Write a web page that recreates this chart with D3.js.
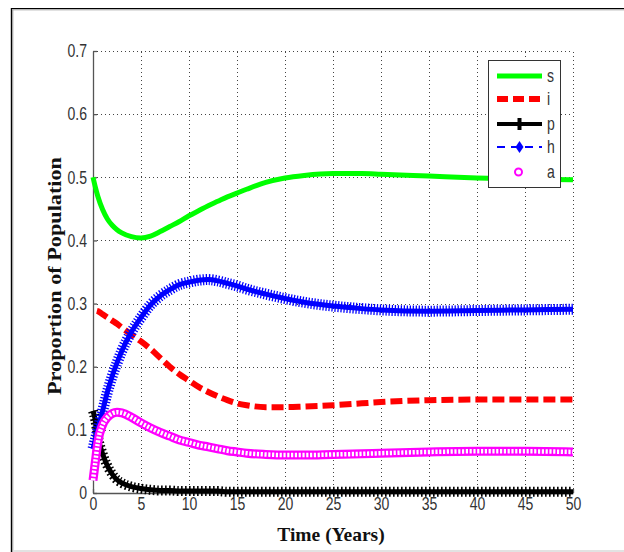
<!DOCTYPE html>
<html><head><meta charset="utf-8">
<script src="https://cdn.jsdelivr.net/npm/d3@7"></script>
<style>body{margin:0;background:#fff}</style>
</head><body><svg id="c" width="624" height="552"></svg>
<script>
// ---- data ----
const T  = [0,0.25,0.5,1,1.5,2,2.5,3,4,5,6,7,8,9,10,11,12,13,14,15,16,18,20,22,25,28,30,35,40,45,50];
const sV = [0.5,0.484,0.47,0.449,0.434,0.424,0.417,0.412,0.406,0.404,0.407,0.414,0.422,0.43,0.439,0.447,0.455,0.462,0.469,0.475,0.481,0.492,0.499,0.503,0.506,0.506,0.505,0.502,0.499,0.497,0.496];
const iV = [0.29,0.289,0.288,0.283,0.278,0.273,0.268,0.262,0.251,0.24,0.228,0.214,0.2,0.188,0.178,0.168,0.16,0.153,0.147,0.142,0.139,0.136,0.136,0.137,0.139,0.142,0.144,0.147,0.148,0.148,0.148];
const pV = [0.13,0.115,0.09,0.062,0.043,0.03,0.021,0.016,0.01,0.007,0.005,0.004,0.004,0.003,0.003,0.003,0.003,0.003,0.002,0.002,0.002,0.002,0.002,0.002,0.002,0.002,0.002,0.002,0.002,0.002,0.002];
const hV = [0.07,0.085,0.1,0.13,0.16,0.185,0.206,0.225,0.255,0.278,0.298,0.312,0.322,0.33,0.334,0.337,0.338,0.336,0.332,0.328,0.323,0.315,0.308,0.302,0.296,0.292,0.29,0.288,0.289,0.29,0.291];
const aV = [0.02,0.05,0.08,0.108,0.12,0.126,0.128,0.127,0.12,0.111,0.103,0.096,0.09,0.084,0.08,0.076,0.073,0.07,0.067,0.065,0.063,0.061,0.06,0.06,0.061,0.062,0.063,0.065,0.066,0.066,0.065];
const xTicks = [0,5,10,15,20,25,30,35,40,45,50];
const yTicks = [0,0.1,0.2,0.3,0.4,0.5,0.6,0.7];
const yTickLabels = ["0","0.1","0.2","0.3","0.4","0.5","0.6","0.7"];
const legendLabels = ["s","i","p","h","a"];
const xTitle = "Time (Years)";
const yTitle = "Proportion of Population";

const svg = d3.select("#c");
const x = d3.scaleLinear().domain([0,50]).range([93,573]);
const y = d3.scaleLinear().domain([0,0.7]).range([493,51]);
const SANS = "'Liberation Sans Narrow','Liberation Sans',Arial,sans-serif";
const SX = 0.78;

// outer frame
svg.append("rect").attr("x",0).attr("y",0).attr("width",624).attr("height",552).attr("fill","#fff");
svg.append("line").attr("x1",11).attr("x2",624).attr("y1",8.5).attr("y2",8.5).attr("stroke","#000").attr("stroke-width",1.2);
svg.append("line").attr("x1",11.5).attr("x2",11.5).attr("y1",8).attr("y2",552).attr("stroke","#000").attr("stroke-width",1.4);
svg.append("line").attr("x1",12.5).attr("x2",624).attr("y1",9.8).attr("y2",9.8).attr("stroke","#999").attr("stroke-width",1);
svg.append("line").attr("x1",12.8).attr("x2",12.8).attr("y1",9.5).attr("y2",552).attr("stroke","#999").attr("stroke-width",1);
svg.append("line").attr("x1",13).attr("x2",624).attr("y1",551).attr("y2",551).attr("stroke","#e2e2e2").attr("stroke-width",2);

// grid
const grid = svg.append("g").attr("stroke","#444").attr("stroke-width",1).attr("stroke-dasharray","1,3");
xTicks.filter(d=>d>0).forEach(d=>grid.append("line").attr("x1",Math.round(x(d))+0.5).attr("x2",Math.round(x(d))+0.5).attr("y1",y(0)).attr("y2",y(0.7)));
yTicks.filter(d=>d>0).forEach(d=>grid.append("line").attr("y1",Math.round(y(d))+0.5).attr("y2",Math.round(y(d))+0.5).attr("x1",x(0)).attr("x2",x(50)));

// axes
const ax = svg.append("g").attr("transform",`translate(${x(0)},0)`)
  .call(d3.axisLeft(y).tickValues(yTicks).tickFormat((d,i)=>yTickLabels[i]).tickSizeInner(-4).tickSizeOuter(0).tickPadding(6));
const bx = svg.append("g").attr("transform",`translate(0,${y(0)})`)
  .call(d3.axisBottom(x).tickValues(xTicks).tickFormat(d3.format("d")).tickSizeInner(-4).tickSizeOuter(0).tickPadding(4));
[ax,bx].forEach(g=>{
  g.selectAll("path,line").attr("stroke","#555").attr("stroke-width",1.3);
  g.selectAll("text").attr("font-family",SANS).attr("font-size",18).attr("fill","#333")
    .attr("transform",`scale(${SX},1)`);
});
ax.selectAll("text").attr("x",-6/SX);

// titles
svg.append("text").attr("x",331).attr("y",541).attr("text-anchor","middle")
  .attr("font-family","'Liberation Serif','Times New Roman',serif").attr("font-weight","bold").attr("font-size",19.5).attr("fill","#111").text(xTitle);
svg.append("text").attr("transform","translate(61,276) rotate(-90)").attr("text-anchor","middle")
  .attr("textLength",238).attr("lengthAdjust","spacingAndGlyphs")
  .attr("font-family","'Liberation Serif','Times New Roman',serif").attr("font-weight","bold").attr("font-size",19.5).attr("fill","#111").text(yTitle);

// lines
const line = vals => d3.line().x((d,i)=>x(T[i])).y(d=>y(d)).curve(d3.curveMonotoneX)(vals);
const plot = svg.append("g").attr("fill","none");
// s
plot.append("path").attr("d",line(sV)).attr("stroke","#00ff00").attr("stroke-width",5);
// i
plot.append("path").attr("d",line(iV)).attr("stroke","#ff0000").attr("stroke-width",6).attr("stroke-dasharray","12,5").attr("stroke-dashoffset",-4);
// p (plus markers)
plot.append("path").attr("d",line(pV)).attr("stroke","#000").attr("stroke-width",5);
plot.append("path").attr("d",line(pV)).attr("stroke","#000").attr("stroke-width",10).attr("stroke-dasharray","1.6,2.4");
// h (star markers)
plot.append("path").attr("d",line(hV)).attr("stroke","#0000ff").attr("stroke-width",5);
plot.append("path").attr("d",line(hV)).attr("stroke","#0000ff").attr("stroke-width",11).attr("stroke-dasharray","1.3,1.7");
// a (circle markers)
plot.append("path").attr("d",line(aV)).attr("stroke","#ff00ff").attr("stroke-width",9);
plot.append("path").attr("d",line(aV)).attr("stroke","#fff").attr("stroke-width",4.5).attr("stroke-dasharray","2.2,1.6");

// legend
const lg = svg.append("g");
lg.append("rect").attr("x",488.5).attr("y",60.5).attr("width",72).attr("height",127).attr("fill","#fff").attr("stroke","#333").attr("stroke-width",1);
const rows = [76,99,124,147,172];
const lx1 = 497, lx2 = 542, lxm = 519.5;
lg.append("line").attr("x1",lx1).attr("x2",lx2).attr("y1",rows[0]).attr("y2",rows[0]).attr("stroke","#00ff00").attr("stroke-width",5);
lg.append("line").attr("x1",lx1).attr("x2",lx2).attr("y1",rows[1]).attr("y2",rows[1]).attr("stroke","#ff0000").attr("stroke-width",6).attr("stroke-dasharray","11,5");
lg.append("line").attr("x1",lx1).attr("x2",lx2).attr("y1",rows[2]).attr("y2",rows[2]).attr("stroke","#000").attr("stroke-width",4);
lg.append("line").attr("x1",lxm).attr("x2",lxm).attr("y1",rows[2]-6).attr("y2",rows[2]+6).attr("stroke","#000").attr("stroke-width",4);
lg.append("line").attr("x1",lx1).attr("x2",lx2).attr("y1",rows[3]).attr("y2",rows[3]).attr("stroke","#0000ff").attr("stroke-width",2).attr("stroke-dasharray","8,6");
lg.append("path").attr("d",`M${lxm},${rows[3]-6}L${lxm+4},${rows[3]}L${lxm},${rows[3]+6}L${lxm-4},${rows[3]}Z`).attr("fill","#0000ff");
lg.append("circle").attr("cx",lxm-1).attr("cy",rows[4]).attr("r",3.5).attr("fill","none").attr("stroke","#ff00ff").attr("stroke-width",2);
legendLabels.forEach((t,i)=>lg.append("text").attr("transform",`translate(547,${rows[i]}) scale(${SX},1)`).attr("dy","0.35em")
  .attr("font-family",SANS).attr("font-size",18).attr("fill","#333").text(t));
</script>
</body></html>
